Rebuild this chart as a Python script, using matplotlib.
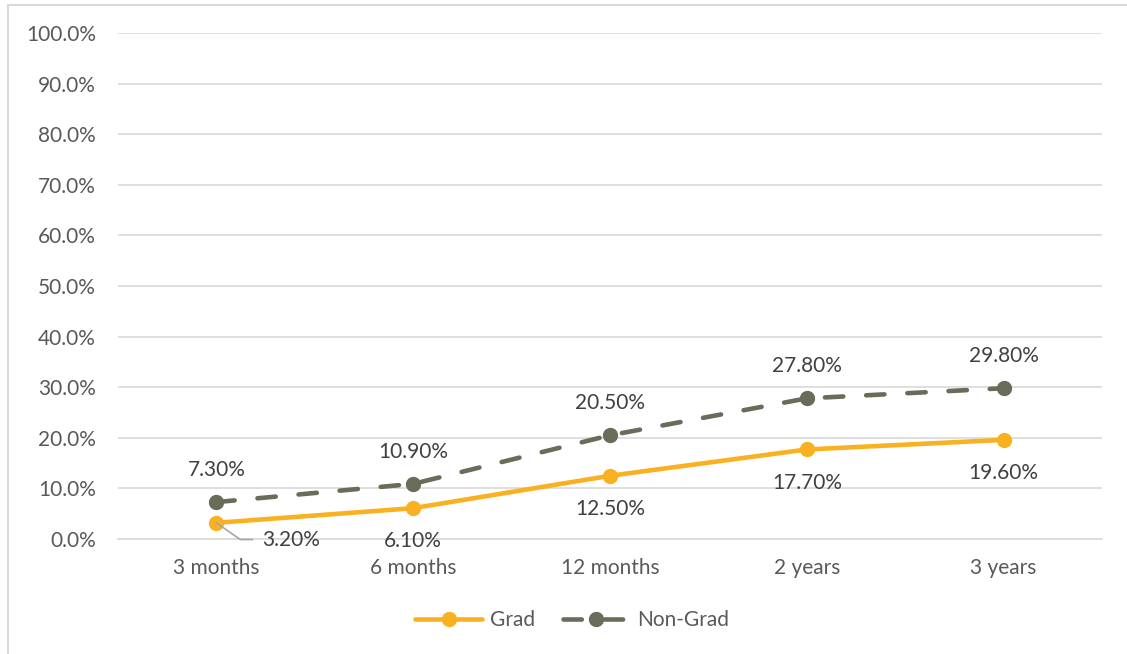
import matplotlib.pyplot as plt
from matplotlib.patches import Rectangle

periods = ["3 months", "6 months", "12 months", "2 years", "3 years"]
grad = [3.2, 6.1, 12.5, 17.7, 19.6]
non_grad = [7.3, 10.9, 20.5, 27.8, 29.8]
y_ticks = [0, 10, 20, 30, 40, 50, 60, 70, 80, 90, 100]

plt.rcParams["font.family"] = ["Lato", "DejaVu Sans"]
text_color = "#595959"
label_color = "#404040"
grad_color = "#F9B122"
non_grad_color = "#686C58"
fs = 15

fig = plt.figure(figsize=(11.27, 6.54), dpi=100)
ax = fig.add_axes([0.1047, 0.1758, 0.8731, 0.7737])

# chart outline
fig.patches.append(Rectangle((8 / 1127, -0.05), 1.2, 1 - 5 / 654 + 0.05,
                             transform=fig.transFigure, fill=False,
                             edgecolor="#D9D9D9", linewidth=1.5))

x = list(range(len(periods)))
ax.plot(x, grad, color=grad_color, linewidth=3.3, marker="o", markersize=10,
        label="Grad", solid_capstyle="round", zorder=3)
ax.plot(x, non_grad, color=non_grad_color, linewidth=3.3, linestyle=(0, (4.0, 5.0)),
        marker="o", markersize=10, label="Non-Grad", dash_capstyle="round", zorder=3)

# value labels
for i, v in enumerate(non_grad):
    ax.annotate(f"{v:.2f}%", (i, v), xytext=(0, 23), textcoords="offset points",
                ha="center", va="center", fontsize=fs, color=label_color)
for i, v in enumerate(grad):
    if i == 0:
        ax.annotate(f"{v:.2f}%", (i, v), xytext=(x[i] + 0.38, -0.1),
                    textcoords="data", ha="center", va="center", fontsize=fs,
                    color=label_color,
                    arrowprops=dict(arrowstyle="-", color="#A6A6A6", lw=1.2,
                                    shrinkA=5, shrinkB=0,
                                    connectionstyle="angle,angleA=0,angleB=-35,rad=0",
                                    relpos=(0, 0.5)))
    else:
        ax.annotate(f"{v:.2f}%", (i, v), xytext=(0, -24), textcoords="offset points",
                    ha="center", va="center", fontsize=fs, color=label_color)

ax.set_xlim(-0.5, len(periods) - 0.5)
ax.set_ylim(0, 100)
ax.set_yticks(y_ticks)
ax.set_yticklabels([f"{t:.1f}%" for t in y_ticks])
ax.set_xticks(x)
ax.set_xticklabels(periods)
ax.tick_params(axis="both", length=0, labelsize=fs, colors=text_color)
ax.tick_params(axis="y", pad=16)
ax.tick_params(axis="x", pad=14)
ax.grid(axis="y", color="#D9D9D9", linewidth=1.2)
ax.set_axisbelow(True)
for side in ["top", "right", "left"]:
    ax.spines[side].set_visible(False)
ax.spines["bottom"].set_color("#D9D9D9")
ax.spines["bottom"].set_linewidth(1.2)

leg = fig.legend(loc="center", bbox_to_anchor=(0.508, 0.052), ncol=2, frameon=False,
                 fontsize=fs, handlelength=3.2, columnspacing=1.3, handletextpad=0.4)
for t in leg.get_texts():
    t.set_color(text_color)

fig.savefig("out.png", dpi=100)
